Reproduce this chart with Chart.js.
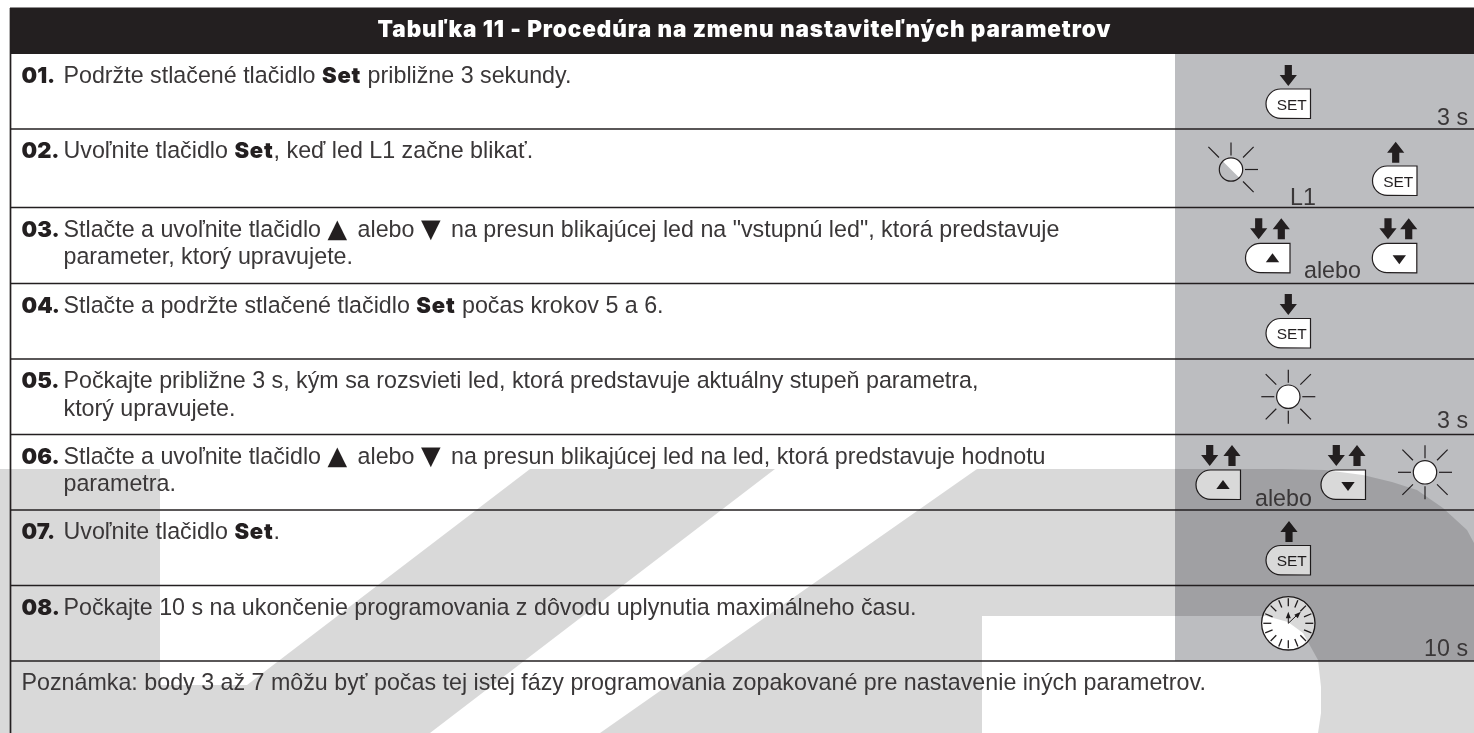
<!DOCTYPE html>
<html>
<head>
<meta charset="utf-8">
<title>Tabuľka 11</title>
<script src="https://cdn.jsdelivr.net/npm/chart.js@4"></script>
<style>
	html, body { margin: 0; padding: 0; background: #fff; overflow: hidden; }
	canvas { display: block; }
</style>
</head>
<body>
<canvas id="table" width="1474" height="733"></canvas>
<script>
var title = "Tabuľka 11 - Procedúra na zmenu nastaviteľných parametrov";
var stepNumbers = ["01.", "02.", "03.", "04.", "05.", "06.", "07.", "08."];
var stepTexts = [
	["Podržte stlačené tlačidlo **Set** približne 3 sekundy."],
	["Uvoľnite tlačidlo **Set**, keď led L1 začne blikať."],
	["Stlačte a uvoľnite tlačidlo ▲ alebo ▼ na presun blikajúcej led na \"vstupnú led\", ktorá predstavuje", "parameter, ktorý upravujete."],
	["Stlačte a podržte stlačené tlačidlo **Set** počas krokov 5 a 6."],
	["Počkajte približne 3 s, kým sa rozsvieti led, ktorá predstavuje aktuálny stupeň parametra,", "ktorý upravujete."],
	["Stlačte a uvoľnite tlačidlo ▲ alebo ▼ na presun blikajúcej led na led, ktorá predstavuje hodnotu", "parametra."],
	["Uvoľnite tlačidlo **Set**."],
	["Počkajte 10 s na ukončenie programovania z dôvodu uplynutia maximálneho času."]
];
var noteText = "Poznámka: body 3 až 7 môžu byť počas tej istej fázy programovania zopakované pre nastavenie iných parametrov.";

// row borders, in picture units
var rowEdges = [54, 129, 207.5, 283.5, 359, 434.5, 510, 585.5, 661];

// table blocks
var headerBox = [[10, 7.5], [1474, 7.5], [1474, 54], [10, 54]];
var iconColumn = [[1175, 54], [1474, 54], [1474, 661], [1175, 661]];
var leftBorder = [[10.5, 8], [10.5, 733]];

// watermark behind the table
var markBlock = [[0, 469], [160, 469], [160, 733], [0, 733]];
var markStroke = [[530, 469], [775, 469], [430, 733], [160, 733], [160, 685], [247, 685]];
var markLetter = [
	[977, 469], [1283, 469], [1325, 470], [1363, 475], [1392, 482], [1417, 490], [1443, 508], [1467, 530], [1474, 543],
	[1474, 733], [1318, 733], [1321, 713], [1321, 687], [1318, 660], [1303, 633], [1288, 622], [1266, 616], [982, 616],
	[982, 733], [600, 733]
];

// icons
var setButtons = [[1266, 89, "SET"], [1372.5, 166, "SET"], [1266, 318.5, "SET"], [1266, 545.5, "SET"]];
var triangleButtons = [[1245.5, 243.3, "up"], [1372.3, 243.3, "down"], [1196, 470, "up"], [1321, 470, "down"]];
var arrowsDown = [[1288.3, 65], [1258.7, 218.3], [1388, 218.3], [1288.3, 294], [1209.7, 445], [1336.3, 445]];
var arrowsUp = [[1395.7, 141.7], [1281.3, 218.3], [1408.7, 218.3], [1232, 445], [1357, 445], [1289, 521]];
var fullLeds = [[1288.3, 396.7], [1425, 472.3]];
var blinkLed = [1231, 169.5];
var clock = [1288.3, 623.3];
var sideLabels = [["3 s", 1468, 125, "right"], ["L1", 1290, 205, "left"], ["alebo", 1304, 278, "left"], ["3 s", 1468, 428, "right"], ["alebo", 1255, 505.5, "left"], ["10 s", 1468, 656, "right"]];

var dark = "#231f20";
var textColor = "#3a3738";
var bodyFont = "23.25px 'Liberation Sans'";
var heavyFont = "900 22px Inter, 'Liberation Sans'";
var titleFont = "900 22.5px Inter, 'Liberation Sans'";
var signFont = "25.5px 'DejaVu Sans'";

function pts(list) {
	return list.map(function(p) { return { x: p[0], y: p[1] }; });
}

function block(list, color, order) {
	return { data: pts(list), showLine: true, fill: "shape", backgroundColor: color, borderWidth: 0, pointRadius: 0, order: order };
}

function line(list, width, order) {
	return { data: pts(list), showLine: true, fill: false, borderColor: dark, borderWidth: width, pointRadius: 0, order: order };
}

var datasets = [
	block(iconColumn, "#bcbdc0", 10),
	block(markBlock, "rgba(0,0,0,0.15)", 8),
	block(markStroke, "rgba(0,0,0,0.15)", 8),
	block(markLetter, "rgba(0,0,0,0.15)", 8),
	block(headerBox, dark, 3),
	line(leftBorder, 1.7, 2)
];
rowEdges.slice(1).forEach(function(y) {
	datasets.push(line([[10, y], [1474, y]], 1.4, 4));
});

function drawArrow(ctx, x, y, down) {
	var h = 21, shaft = 3.6, head = 8.6, hh = 11;
	ctx.beginPath();
	if (down) {
		ctx.moveTo(x - shaft, y); ctx.lineTo(x + shaft, y); ctx.lineTo(x + shaft, y + h - hh);
		ctx.lineTo(x + head, y + h - hh); ctx.lineTo(x, y + h); ctx.lineTo(x - head, y + h - hh);
		ctx.lineTo(x - shaft, y + h - hh);
	} else {
		ctx.moveTo(x - shaft, y + h); ctx.lineTo(x + shaft, y + h); ctx.lineTo(x + shaft, y + hh);
		ctx.lineTo(x + head, y + hh); ctx.lineTo(x, y); ctx.lineTo(x - head, y + hh);
		ctx.lineTo(x - shaft, y + hh);
	}
	ctx.closePath();
	ctx.fillStyle = dark;
	ctx.fill();
}

function drawButton(ctx, x, y) {
	var w = 44.5, h = 29.5, r = 14.7;
	ctx.beginPath();
	ctx.moveTo(x + w, y);
	ctx.lineTo(x + r, y);
	ctx.arc(x + r, y + r, r, -Math.PI / 2, Math.PI / 2, true);
	ctx.lineTo(x + w, y + h);
	ctx.closePath();
	ctx.fillStyle = "#fff";
	ctx.fill();
	ctx.strokeStyle = dark;
	ctx.lineWidth = 1.2;
	ctx.stroke();
}

function drawRays(ctx, x, y, angles) {
	ctx.strokeStyle = dark;
	ctx.lineWidth = 1.2;
	angles.forEach(function(a) {
		var c = Math.cos(a * Math.PI / 180), s = Math.sin(a * Math.PI / 180);
		var diag = a % 90 != 0;
		var from = diag ? 17 : 14, to = diag ? 32 : 27;
		ctx.beginPath();
		ctx.moveTo(x + c * from, y + s * from);
		ctx.lineTo(x + c * to, y + s * to);
		ctx.stroke();
	});
}

function drawIcons(chart) {
	var ctx = chart.ctx, sx = chart.scales.x, sy = chart.scales.y;
	function X(v) { return sx.getPixelForValue(v); }
	function Y(v) { return sy.getPixelForValue(v); }
	ctx.save();

	setButtons.forEach(function(b) {
		drawButton(ctx, X(b[0]), Y(b[1]));
		ctx.fillStyle = dark;
		ctx.font = "15.5px 'Liberation Sans'";
		ctx.textAlign = "center";
		ctx.fillText(b[2], X(b[0]) + 25.7, Y(b[1]) + 20.5);
	});
	triangleButtons.forEach(function(b) {
		var x = X(b[0]), y = Y(b[1]);
		drawButton(ctx, x, y);
		var cx = x + 27, top = y + (b[2] == "up" ? 10 : 12), d = 9;
		ctx.beginPath();
		if (b[2] == "up") {
			ctx.moveTo(cx, top); ctx.lineTo(cx + 6.7, top + d); ctx.lineTo(cx - 6.7, top + d);
		} else {
			ctx.moveTo(cx, top + d); ctx.lineTo(cx + 6.7, top); ctx.lineTo(cx - 6.7, top);
		}
		ctx.closePath();
		ctx.fillStyle = dark;
		ctx.fill();
	});
	arrowsDown.forEach(function(a) { drawArrow(ctx, X(a[0]), Y(a[1]), true); });
	arrowsUp.forEach(function(a) { drawArrow(ctx, X(a[0]), Y(a[1]), false); });

	fullLeds.forEach(function(l) {
		var x = X(l[0]), y = Y(l[1]);
		ctx.beginPath();
		ctx.arc(x, y, 11.7, 0, Math.PI * 2);
		ctx.fillStyle = "#fff";
		ctx.fill();
		ctx.strokeStyle = dark;
		ctx.lineWidth = 1.2;
		ctx.stroke();
		drawRays(ctx, x, y, [0, 45, 90, 135, 180, 225, 270, 315]);
	});

	// blinking led: only the upper right half is lit
	var bx = X(blinkLed[0]), by = Y(blinkLed[1]);
	ctx.beginPath();
	ctx.arc(bx, by, 11.7, -Math.PI * 3 / 4, Math.PI / 4);
	ctx.closePath();
	ctx.fillStyle = "#fff";
	ctx.fill();
	ctx.beginPath();
	ctx.arc(bx, by, 11.7, 0, Math.PI * 2);
	ctx.strokeStyle = dark;
	ctx.lineWidth = 1.2;
	ctx.stroke();
	drawRays(ctx, bx, by, [225, 270, 315, 0, 45]);

	// clock
	var cx = X(clock[0]), cy = Y(clock[1]);
	ctx.beginPath();
	ctx.arc(cx, cy, 26.7, 0, Math.PI * 2);
	ctx.fillStyle = "#fff";
	ctx.fill();
	ctx.strokeStyle = dark;
	ctx.lineWidth = 1.3;
	ctx.stroke();
	for (var i = 0; i < 16; i++) {
		var a = i * Math.PI / 8;
		ctx.beginPath();
		ctx.moveTo(cx + Math.cos(a) * 17, cy + Math.sin(a) * 17);
		ctx.lineTo(cx + Math.cos(a) * 25, cy + Math.sin(a) * 25);
		ctx.stroke();
	}
	ctx.lineWidth = 1;
	ctx.beginPath();
	ctx.moveTo(cx, cy); ctx.lineTo(cx, cy - 8);
	ctx.moveTo(cx, cy); ctx.lineTo(cx + 9, cy - 8.5);
	ctx.stroke();
	ctx.fillStyle = dark;
	ctx.beginPath();
	ctx.moveTo(cx, cy - 11.5); ctx.lineTo(cx + 2.5, cy - 5); ctx.lineTo(cx - 2.5, cy - 5);
	ctx.closePath();
	ctx.moveTo(cx + 12.5, cy - 11.5); ctx.lineTo(cx + 9.5, cy - 5); ctx.lineTo(cx + 6, cy - 8.5);
	ctx.closePath();
	ctx.fill();
	ctx.restore();
}

// **...** is a heavy run, the two triangle signs come from a font that has them big enough
function drawRuns(ctx, text, x, y) {
	text.split("**").forEach(function(run, i) {
		if (i % 2) {
			ctx.font = heavyFont;
			ctx.letterSpacing = "0.8px";
			ctx.fillStyle = dark;
			ctx.fillText(run, x, y);
			x += ctx.measureText(run).width;
			ctx.letterSpacing = "0px";
			return;
		}
		run.split(/([▲▼])/).forEach(function(part, k) {
			ctx.font = k % 2 ? signFont : bodyFont;
			ctx.fillStyle = k % 2 ? dark : textColor;
			ctx.fillText(part, x, y);
			x += ctx.measureText(part).width + (k % 2 ? 4 : 0);
		});
	});
}

function drawTexts(chart) {
	var ctx = chart.ctx, sx = chart.scales.x, sy = chart.scales.y;
	function X(v) { return sx.getPixelForValue(v); }
	function Y(v) { return sy.getPixelForValue(v); }
	ctx.save();
	ctx.textBaseline = "alphabetic";

	stepNumbers.forEach(function(num, i) {
		var y = Y(rowEdges[i]) + 29;
		ctx.textAlign = "left";
		ctx.font = heavyFont;
		ctx.fillStyle = dark;
		ctx.fillText(num, X(21.5), y);
		stepTexts[i].forEach(function(text, k) {
			drawRuns(ctx, text, X(63.5), y + k * 27.5);
		});
	});
	ctx.font = bodyFont;
	ctx.fillStyle = textColor;
	ctx.fillText(noteText, X(21.5), Y(rowEdges[8]) + 29);

	sideLabels.forEach(function(l) {
		ctx.textAlign = l[3];
		ctx.font = bodyFont;
		ctx.fillText(l[0], X(l[1]), Y(l[2]));
	});

	ctx.textAlign = "center";
	ctx.font = titleFont;
	ctx.letterSpacing = "0.9px";
	ctx.fillStyle = "#fff";
	ctx.fillText(title, X(744.5), Y(37));
	ctx.restore();
}

var tablePlugin = {
	id: "tablePlugin",
	afterDatasetDraw: function(chart, args) {
		if (args.index == 0) {
			drawIcons(chart);
		}
	},
	afterDatasetsDraw: drawTexts
};

new Chart(document.getElementById("table").getContext("2d"), {
	type: "scatter",
	data: { datasets: datasets },
	options: {
		responsive: false,
		animation: false,
		events: [],
		layout: { padding: 0 },
		plugins: { legend: { display: false }, tooltip: { enabled: false } },
		scales: {
			x: { type: "linear", min: 0, max: 1474, display: false },
			y: { type: "linear", min: 0, max: 733, reverse: true, display: false }
		}
	},
	plugins: [tablePlugin]
});
</script>
</body>
</html>
